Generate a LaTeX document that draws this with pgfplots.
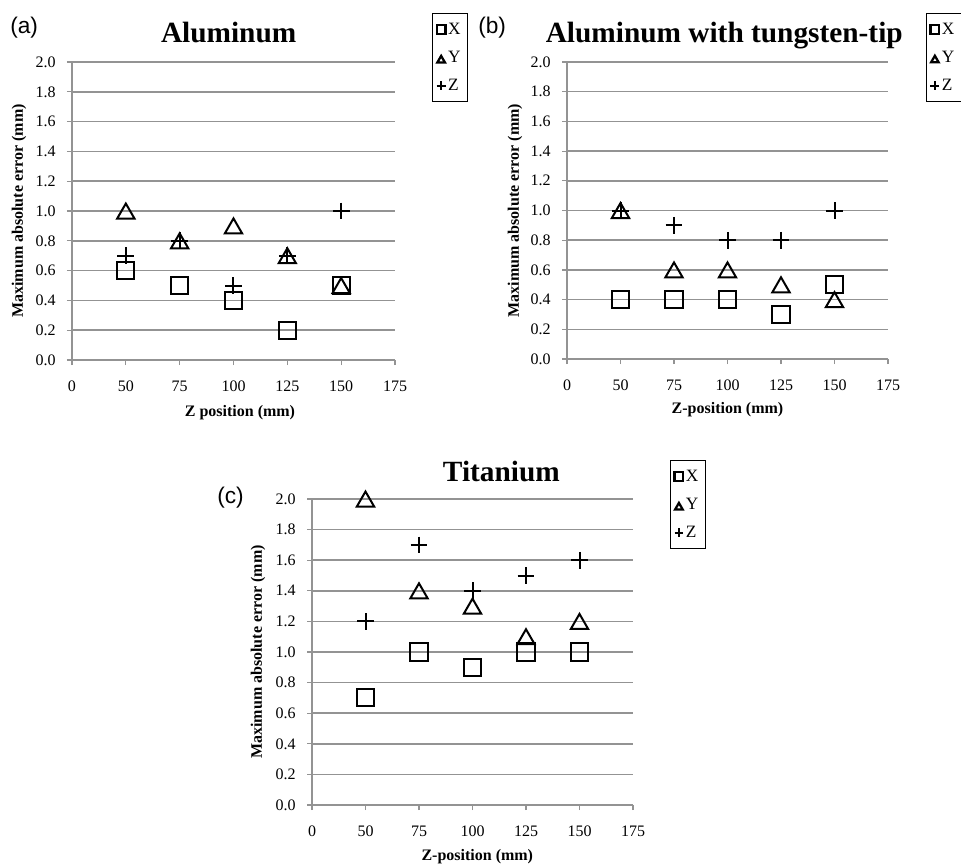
\documentclass[border=0pt]{standalone}
\usepackage{fontspec}
\setmainfont{Liberation Serif}
\newfontfamily\arial{Liberation Sans}
\usepackage{pgfplots}
\pgfplotsset{compat=1.18}

\pgfplotsset{
  panel/.style={
    scale only axis,
    clip=false,
    xmin=0, xmax=6, ymin=0, ymax=2,
    xtick={0,1,2,3,4,5,6},
    xticklabels={0,50,75,100,125,150,175},
    ytick={0,0.2,0.4,0.6,0.8,1.0,1.2,1.4,1.6,1.8,2.0},
    yticklabel style={/pgf/number format/.cd, fixed, fixed zerofill, precision=1, assume math mode=true},
    ticklabel style={font=\fontsize{12}{14}\selectfont},
    xticklabel shift=8.5pt,
    yticklabel shift=5pt,
    axis x line=bottom, axis y line=left,
    axis line style={-, draw=gray!85, line width=1pt},
    ymajorgrids,
    grid style={draw=gray!85, line width=1.1pt},
    tick align=outside,
    major tick length=3.75pt,
    tick style={draw=gray!85, line width=0.9pt},
    title style={font=\bfseries\fontsize{22}{26}\selectfont, anchor=base, yshift=8.5pt},
    legend cell align=left,
    legend style={anchor=north west, draw=black, line width=0.9pt,
      inner xsep=3pt, inner ysep=5pt,
      font=\fontsize{13}{14}\selectfont,
      row sep=7pt,
      /tikz/every even column/.append style={column sep=0.5pt}},
    legend image code/.code={\draw[##1, mark size=3.3pt, line width=1.7pt] plot coordinates {(0pt,0pt)};},
  },
  sX/.style={only marks, mark=square, mark size=6.4pt, line width=1.5pt, black},
  sY/.style={only marks, mark=triangle, mark size=7.5pt, line width=1.5pt, black, mark options={yshift=-1.9pt}},
  sZ/.style={only marks, mark=+, mark size=6.3pt, line width=1.5pt, black},
}

\begin{document}
\begin{tikzpicture}
\clip (0pt,0pt) rectangle (720.75pt,-648.75pt);

% (a) Aluminum
\begin{axis}[panel,
  at={(54pt,-270pt)}, anchor=south west,
  width=242.25pt, height=223.5pt,
  title={Aluminum},
  title style={at={(axis description cs:0.485,1)}},
  xlabel={Z position (mm)},
  ylabel={Maximum absolute error (mm)},
  every axis x label/.style={at={(axis description cs:0.52,-0.175)}, anchor=center, font=\bfseries\fontsize{12}{14}\selectfont},
  every axis y label/.style={at={(axis description cs:-0.164,0.5)}, rotate=90, anchor=center, font=\bfseries\fontsize{12}{14}\selectfont},
  legend style={at={(1.115,1.164)}},
]
\addplot[sX] coordinates {(1,0.6) (2,0.5) (3,0.4) (4,0.2) (5,0.5)};
\addlegendentry{X}
\addplot[sY] coordinates {(1,1.0) (2,0.8) (3,0.9) (4,0.7) (5,0.5)};
\addlegendentry{Y}
\addplot[sZ] coordinates {(1,0.7) (2,0.8) (3,0.5) (4,0.7) (5,1.0)};
\addlegendentry{Z}
\end{axis}

% (b) Aluminum with tungsten-tip
\begin{axis}[panel,
  at={(425.25pt,-269.25pt)}, anchor=south west,
  width=240.75pt, height=222.75pt,
  title={Aluminum with tungsten-tip},
  title style={at={(axis description cs:0.49,1)}},
  xlabel={Z-position (mm)},
  ylabel={Maximum absolute error (mm)},
  every axis x label/.style={at={(axis description cs:0.5,-0.172)}, anchor=center, font=\bfseries\fontsize{12}{14}\selectfont},
  every axis y label/.style={at={(axis description cs:-0.162,0.5)}, rotate=90, anchor=center, font=\bfseries\fontsize{12}{14}\selectfont},
  legend style={at={(1.118,1.165)}},
]
\addplot[sX] coordinates {(1,0.4) (2,0.4) (3,0.4) (4,0.3) (5,0.5)};
\addlegendentry{X}
\addplot[sY] coordinates {(1,1.0) (2,0.6) (3,0.6) (4,0.5) (5,0.4)};
\addlegendentry{Y}
\addplot[sZ] coordinates {(1,1.0) (2,0.9) (3,0.8) (4,0.8) (5,1.0)};
\addlegendentry{Z}
\end{axis}

% (c) Titanium
\begin{axis}[panel,
  at={(234pt,-603.75pt)}, anchor=south west,
  width=240.75pt, height=229.5pt,
  title={Titanium},
  title style={at={(axis description cs:0.59,1)}, yshift=-1pt},
  xlabel={Z-position (mm)},
  ylabel={Maximum absolute error (mm)},
  every axis x label/.style={at={(axis description cs:0.515,-0.17)}, anchor=center, font=\bfseries\fontsize{12}{14}\selectfont},
  every axis y label/.style={at={(axis description cs:-0.168,0.5)}, rotate=90, anchor=center, font=\bfseries\fontsize{12}{14}\selectfont},
  legend style={at={(1.115,1.127)}},
]
\addplot[sX] coordinates {(1,0.7) (2,1.0) (3,0.9) (4,1.0) (5,1.0)};
\addlegendentry{X}
\addplot[sY] coordinates {(1,2.0) (2,1.4) (3,1.3) (4,1.1) (5,1.2)};
\addlegendentry{Y}
\addplot[sZ] coordinates {(1,1.2) (2,1.7) (3,1.4) (4,1.5) (5,1.6)};
\addlegendentry{Z}
\end{axis}

\node[anchor=base west, inner sep=0pt, font=\arial\fontsize{17}{20}\selectfont] at (7.5pt,-24.75pt) {(a)};
\node[anchor=base west, inner sep=0pt, font=\arial\fontsize{17}{20}\selectfont] at (358.5pt,-24.75pt) {(b)};
\node[anchor=base west, inner sep=0pt, font=\arial\fontsize{17}{20}\selectfont] at (162.75pt,-377.25pt) {(c)};
\end{tikzpicture}
\end{document}
